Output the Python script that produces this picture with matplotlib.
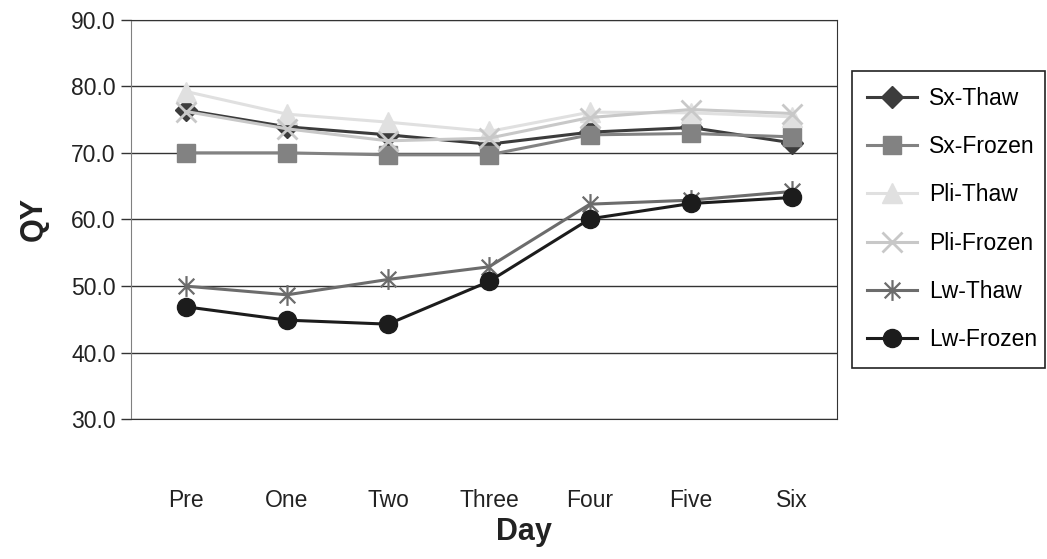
import matplotlib.pyplot as plt
from matplotlib.path import Path
from matplotlib.patches import Rectangle

plt.rcParams['font.family'] = ['Liberation Sans', 'DejaVu Sans']

days = ["Pre", "One", "Two", "Three", "Four", "Five", "Six"]
sx_thaw = [76.4, 73.9, 72.7, 71.3, 73.1, 73.8, 71.5]
sx_frozen = [70.0, 70.0, 69.7, 69.7, 72.7, 72.9, 72.4]
pli_thaw = [79.2, 75.8, 74.6, 73.2, 76.1, 76.0, 75.4]
pli_frozen = [76.2, 73.6, 71.8, 72.2, 75.3, 76.5, 75.9]
lw_thaw = [50.0, 48.7, 51.0, 52.9, 62.3, 62.9, 64.2]
lw_frozen = [46.9, 44.9, 44.3, 50.7, 60.1, 62.4, 63.3]

# six-armed asterisk: vertical bar plus an X
star = Path([(0, -1), (0, 1), (-0.75, -0.75), (0.75, 0.75), (-0.75, 0.75), (0.75, -0.75)],
            [Path.MOVETO, Path.LINETO] * 3)

fig = plt.figure(figsize=(10.47, 5.59), dpi=100)
ax = fig.add_axes([0.1251, 0.2496, 0.6743, 0.7155])
x = list(range(len(days)))

ax.plot(x, sx_thaw, color="#3c3c3c", lw=2.2, marker="D", ms=11, label="Sx-Thaw")
ax.plot(x, sx_frozen, color="#828282", lw=2.2, marker="s", ms=12.5, label="Sx-Frozen")
ax.plot(x, pli_thaw, color="#e0e0e0", lw=2.2, marker="^", ms=14, label="Pli-Thaw")
ax.plot(x, pli_frozen, color="#c8c8c8", lw=2.2, marker="x", ms=14, mew=2, label="Pli-Frozen")
ax.plot(x, lw_thaw, color="#6c6c6c", lw=2.2, marker=star, ms=15, mew=1.6,
        mfc="none", label="Lw-Thaw")
ax.plot(x, lw_frozen, color="#1c1c1c", lw=2.2, marker="o", ms=13, label="Lw-Frozen")

ax.set_ylim(30, 90)
ax.set_yticks(range(30, 91, 10))
ax.set_yticklabels([f"{v:.1f}" for v in range(30, 91, 10)])
ax.set_xlim(-0.545, 6.446)
ax.set_xticks(x)
ax.set_xticklabels(days)
ax.yaxis.grid(True, color="#333333", lw=1)
ax.set_axisbelow(True)
ax.tick_params(axis="y", length=7, width=1, color="#333333", pad=4, labelsize=16.5,
               labelcolor="#222222")
ax.tick_params(axis="x", length=0, pad=50, labelsize=16.5, labelcolor="#222222")
for side in ["top", "right", "bottom"]:
    ax.spines[side].set_color("#333333")
ax.spines["left"].set_color("#808080")

fig.text(0.5, 0.048, "Day", ha="center", va="center", fontsize=22, fontweight="bold",
         color="#222222")
fig.text(0.032, 0.608, "QY", ha="center", va="center", rotation=90, fontsize=22,
         fontweight="bold", color="#222222")

# legend entries without their own frame; the box is drawn separately
fig.legend(loc="upper left", bbox_to_anchor=(0.8281, 0.8444), fontsize=16.5,
           frameon=False, handlelength=2.2, handletextpad=0.5, labelspacing=1.1,
           borderpad=0, borderaxespad=0)
fig.patches.append(Rectangle((0.8138, 0.3417), 0.1843, 0.5313, transform=fig.transFigure,
                             fill=False, ec="#222222", lw=1.2))

fig.savefig("out.png", dpi=100)
